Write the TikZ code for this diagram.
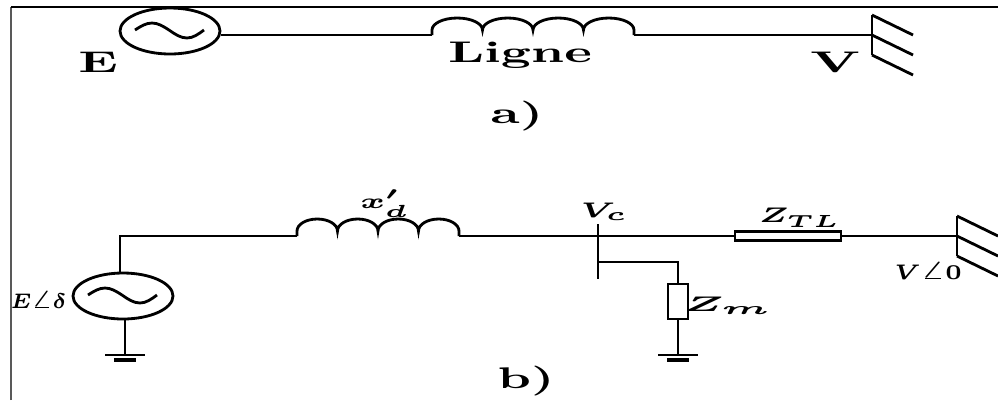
\documentclass[tikz,border=0pt]{standalone}
\usetikzlibrary{shapes.geometric}

\tikzset{
    gen/.style = {draw, ellipse, inner sep = 0pt, minimum width = 1cm, minimum height = 0.46cm},
    res/.style = {draw, rectangle, inner sep = 0pt},
    lab/.style = {inner sep = 0pt, font = \fontsize{8.5}{10}\selectfont\bfseries, xscale = 1.7},
    smalllab/.style = {inner sep = 0pt, font = \fontsize{6.5}{8}\selectfont\boldmath, xscale = 1.5},
}

% Sine inside a source, coil between two levels, earth, infinite bus:
\newcommand{\sinewave}[1]{\draw ([xshift = -0.35cm, yshift = 0.01cm]#1.center) sin ++(0.17,0.07) cos ++(0.17,-0.07) sin ++(0.18,-0.08) cos ++(0.17,0.08);}
\newcommand{\coil}[2]{\draw (#1) -- ++(0,0.05) \foreach \k in {1,...,4} {arc [start angle = 180, end angle = 0, x radius = #2, y radius = 0.12]} -- ++(0,-0.05);}
\newcommand{\earth}[1]{
    \draw ([xshift = -0.2cm]#1) -- ([xshift = 0.2cm]#1);
    \draw [line width = 1.4pt] ([xshift = -0.11cm, yshift = -0.05cm]#1) -- ([xshift = 0.11cm, yshift = -0.05cm]#1);
}
\newcommand{\infbus}[1]{
    \draw ([yshift = 0.2cm]#1) -- ([yshift = -0.2cm]#1);
    \foreach \h in {0.2,0,-0.2} {
        \draw ([yshift = \h cm]#1) -- ++(0.41,-0.2);
    }
}

\begin{document}
\begin{tikzpicture}[line width = 0.8pt]
    \useasboundingbox (0,0) rectangle (9.98,4);

    % Frame:
    \draw [gray!70!black] (0.11,0) -- (0.11,3.93);
    \draw (0.11,3.93) -- (9.98,3.93);

    % Part a:
    \node [gen] (genA) at (1.70,3.69) {};
    \sinewave{genA}
    \coordinate (coilAin) at (4.32,3.65);
    \coordinate (coilAout) at (6.34,3.65);
    \coordinate (busA) at (8.72,3.65);
    \draw (genA.east |- coilAin) -- (coilAin);
    \coil{coilAin}{0.2525}
    \draw (coilAout) -- (busA);
    \infbus{busA}

    \node [lab] (labE) at (0.98,3.38) {E};
    \node [lab] (labLigne) at (5.20,3.45) {Ligne};
    \node [lab, xscale = 1.1] (labV) at (8.35,3.38) {V};
    \node [lab] (laba) at (5.17,2.84) {a)};

    % Part b:
    \node [gen] (genB) at (1.23,1.04) {};
    \sinewave{genB}
    \coordinate (cornerB) at (1.20,1.64);
    \coordinate (coilBin) at (2.97,1.64);
    \coordinate (coilBout) at (4.59,1.64);
    \coordinate (barTop) at (5.98,1.76);
    \coordinate (barMid) at (5.98,1.64);
    \coordinate (barTee) at (5.98,1.38);
    \coordinate (barEnd) at (5.98,1.21);
    \coordinate (cornerM) at (6.78,1.38);
    \coordinate (busB) at (9.57,1.64);
    \coordinate (gndB) at (1.25,0.45);
    \coordinate (gndM) at (6.78,0.45);
    \node [res, minimum width = 1.06cm, minimum height = 0.085cm] (zTL) at (7.88,1.64) {};
    \node [res, minimum width = 0.2cm, minimum height = 0.35cm] (zM) at (6.78,0.985) {};

    \draw (genB.north -| cornerB) -- (cornerB) -- (coilBin);
    \coil{coilBin}{0.2025}
    \draw (coilBout) -- (barMid) -- (zTL.west);
    \draw (zTL.east) -- (busB);
    \draw (barTop) -- (barEnd);
    \draw (barTee) -- (cornerM) -- (zM.north);
    \draw (zM.south) -- (gndM);
    \draw (genB.south -| gndB) -- (gndB);
    \earth{gndB}
    \earth{gndM}
    \infbus{busB}

    \node [smalllab, xscale = 0.65] (labEd) at (0.385,1.00) {$E{\angle}\delta$};
    \node [smalllab] (labXd) at (3.85,1.96) {$x'_d$};
    \node [smalllab] (labVc) at (6.04,1.88) {$V_c$};
    \node [smalllab, xscale = 0.95] (labZTL) at (8.00,1.82) {$Z_{TL}$};
    \node [smalllab, xscale = 1.3] (labZm) at (7.28,0.94) {$Z_m$};
    \node [smalllab, xscale = 0.75] (labV0) at (9.28,1.29) {$V{\angle}0$};
    \node [lab] (labb) at (5.26,0.19) {b)};
\end{tikzpicture}
\end{document}
